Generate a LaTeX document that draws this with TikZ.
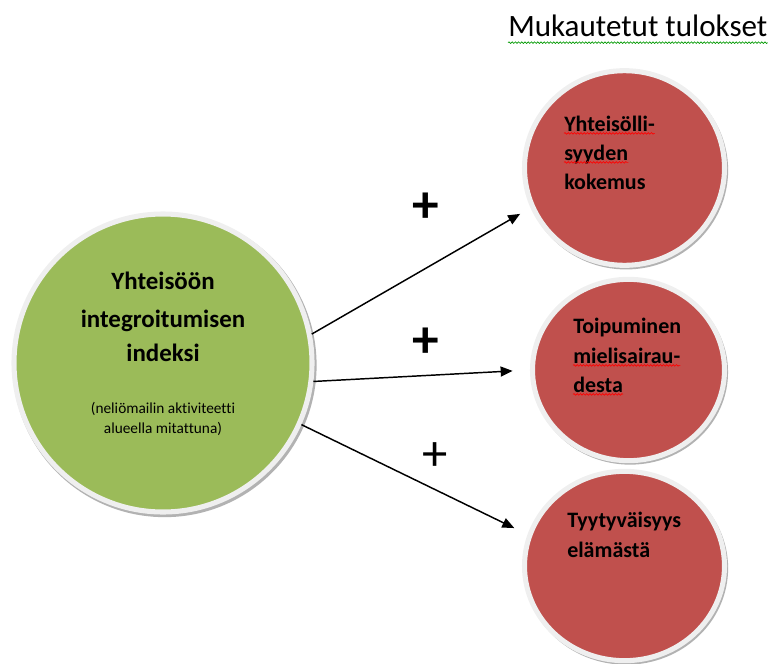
\documentclass[tikz,border=0pt]{standalone}
\usepackage{fontspec}
\setmainfont{Carlito}[Ligatures=NoCommon]
\usetikzlibrary{arrows.meta,shapes.geometric,shadows,decorations.pathmorphing}
\definecolor{olgreen}{HTML}{9BBB59}
\definecolor{olred}{HTML}{C0504D}
\definecolor{rim}{HTML}{EFEFEF}
\tikzset{bubble/.style={ellipse,draw=rim,line width=3.8pt,inner sep=0pt,
    drop shadow={shadow xshift=1.2pt,shadow yshift=-1.6pt,shadow scale=1.02,fill=black!60,opacity=0.5}},
  outcome/.style={bubble,fill=olred},
  gtitle/.style={anchor=base,inner sep=0pt,font=\bfseries\fontsize{18.7}{22}\selectfont},
  gnote/.style={anchor=base,inner sep=0pt,font=\fontsize{11.5}{14}\selectfont},
  lbl/.style={anchor=base west,inner sep=0pt,font=\bfseries\fontsize{16.5}{20}\selectfont},
  link/.style={-{Triangle[length=9pt,width=7.5pt]},line width=1.1pt},
  plus/.style={inner sep=0pt,font=\bfseries\fontsize{40}{40}\selectfont},
  spell/.style={decorate,decoration={snake,amplitude=0.6pt,segment length=2.4pt},line width=0.5pt}}

\begin{document}
\begin{tikzpicture}[x=0.75pt,y=-0.75pt]
\useasboundingbox (0,0) rectangle (769,664);

% circles
\node[bubble,fill=olgreen,minimum width=223.5pt,minimum height=223.5pt] (green) at (163,363) {};
\node[outcome,minimum width=150pt,minimum height=146pt] (top) at (624.5,168) {};
\node[outcome,minimum width=144pt,minimum height=136pt] (mid) at (628.5,370) {};
\node[outcome,minimum width=150pt,minimum height=142pt] (bot) at (624.5,566) {};

% texts
\node[anchor=base west,inner sep=0pt,font=\fontsize{23.3}{27}\selectfont] (head) at (508,36) {Mukautetut tulokset};
\foreach \txt/\y [count=\i] in {Yhteisöön/289,integroitumisen/327,indeksi/361}
  \node[gtitle] (g\i) at (163,\y) {\txt};
\node[gnote] (n1) at (163,413) {(neliömailin aktiviteetti};
\node[gnote] (n2) at (163,433) {alueella mitattuna)};
\foreach \txt/\y [count=\i] in {Yhteisölli-/131,syyden/160,kokemus/189}
  \node[lbl] (a\i) at (564,\y) {\txt};
\foreach \txt/\y [count=\i] in {Toipuminen/333,mielisairau-/363,desta/392}
  \node[lbl] (b\i) at (573,\y) {\txt};
\foreach \txt/\y [count=\i] in {Tyytyväisyys/527,elämästä/557}
  \node[lbl] (c\i) at (567,\y) {\txt};

% spelling marks
\draw[spell,green!60!black] ([yshift=-5pt]head.base west) -- ([yshift=-5pt]head.base east);
\foreach \n in {a1,a2,b2,b3}
  \draw[spell,red] ([yshift=-1.8pt]\n.base west) -- ([yshift=-1.8pt]\n.base east);

% arrows
\draw[link,shorten >=9pt] (green.11.75) -- (top.203);
\draw[link,shorten >=13pt] (green.-7.3) -- (mid.180.5);
\draw[link,shorten >=11pt] (green.-24.4) -- (bot.162);
\node[plus] (p1) at (426,208) {+};
\node[plus] (p2) at (426,343) {+};
\node[plus,font=\fontsize{38}{38}\selectfont] (p3) at (435,457) {+};

\end{tikzpicture}
\end{document}
